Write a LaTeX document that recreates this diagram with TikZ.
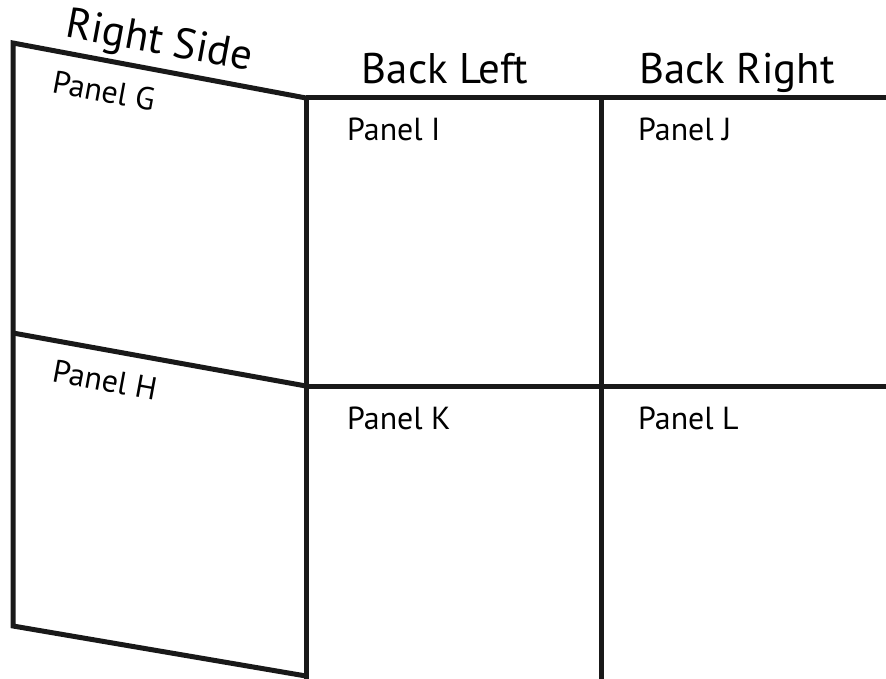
\documentclass[tikz,border=0pt]{standalone}
\usepackage{fontspec}
\setmainfont{PT Sans}
\begin{document}
\begin{tikzpicture}[x=1bp,y=-1bp,
  wall/.style={line width=5bp, line join=miter, black!90},
  big/.style={font=\fontsize{43}{47}\selectfont, inner sep=0pt},
  small/.style={font=\fontsize{32}{36}\selectfont, inner sep=0pt, anchor=base west}]
\useasboundingbox (0,0) rectangle (886,679);
\coordinate (tl) at (13,43);
\coordinate (ml) at (13,333);
\coordinate (bl) at (13,626);
\coordinate (tc) at (306,98);
\coordinate (mc) at (306,386);
\coordinate (bc) at (306,679);
\coordinate (bcs) at (306,676);
\coordinate (tr) at (886,98);
\coordinate (mr) at (886,386);
\coordinate (tv) at (601,98);
\coordinate (bv) at (601,679);
\draw[wall] (tc) -- (tl) -- (bl) -- (bcs);
\draw[wall] (ml) -- (mc);
\draw[wall] (tc) -- (bc);
\draw[wall] (tc) -- (tr);
\draw[wall] (mc) -- (mr);
\draw[wall] (tv) -- (bv);
\node[big, rotate=-10.5] (rs) at (159,43) {Right Side};
\node[big, anchor=base] (bleft) at (445,84) {Back Left};
\node[big, anchor=base] (bright) at (737,84) {Back Right};
\node[small, anchor=center, rotate=-10.5] (pg) at (104,91) {Panel G};
\node[small, anchor=center, rotate=-10.5] (ph) at (105,380) {Panel H};
\node[small] (pi) at (347,141) {Panel I};
\node[small] (pj) at (638,141) {Panel J};
\node[small] (pk) at (347,429) {Panel K};
\node[small] (pl) at (638,429) {Panel L};
\end{tikzpicture}
\end{document}
